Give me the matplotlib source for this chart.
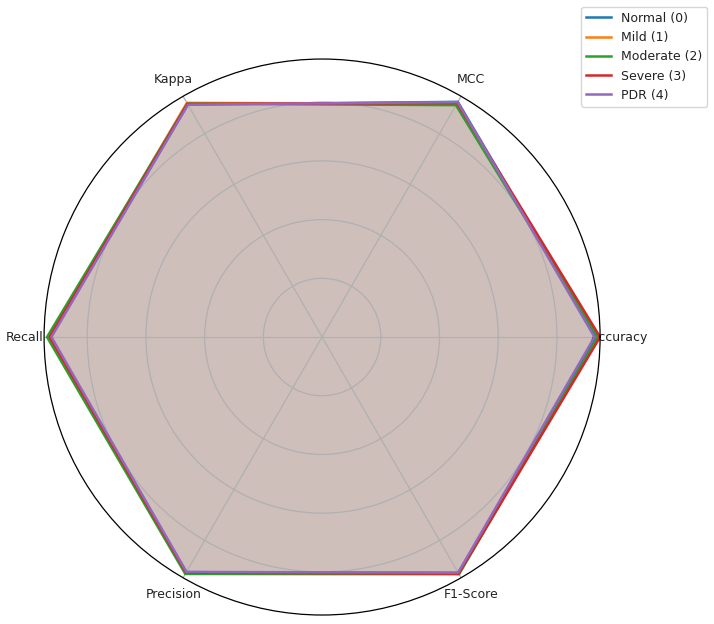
import numpy as np
from matplotlib import pyplot as plt

categories = ['Accuracy', 'MCC', 'Kappa', 'Recall', 'Precision', 'F1-Score']
labels = ['Normal (0)', 'Mild (1)', 'Moderate (2)', 'Severe (3)', 'PDR (4)']

normal = [0.935, 0.925, 0.915, 0.925, 0.925, 0.928]
mild = [0.943, 0.918, 0.921, 0.930, 0.928, 0.930]
moderate = [0.940, 0.912, 0.918, 0.937, 0.932, 0.933]
severe = [0.947, 0.920, 0.917, 0.928, 0.927, 0.931]
pdr = [0.928, 0.924, 0.914, 0.922, 0.924, 0.927]

series = [normal, mild, moderate, severe, pdr]

angles = np.linspace(0, 2 * np.pi, len(categories), endpoint=False).tolist()
angles += angles[:1]

fig = plt.figure(figsize=(7.14, 6.24), dpi=100)
ax = fig.add_axes([0.0616, 0.0144, 0.779, 0.891], polar=True)

for vals, lab in zip(series, labels):
    v = vals + vals[:1]
    ax.plot(angles, v, linewidth=1.8, label=lab)
    ax.fill(angles, v, alpha=0.1)

ax.set_xticks(angles[:-1])
ax.set_xticklabels(categories, fontsize=9, color='#222222')
ax.set_yticklabels([])
ax.set_ylim(0, max(max(s) for s in series))
ax.grid(color='#b0b0b0', linewidth=0.9)
ax.spines['polar'].set_linewidth(0.9)

fig.legend(loc='upper right', bbox_to_anchor=(0.9995, 0.999), fontsize=9,
           labelcolor='#222222')

plt.savefig('out.png', dpi=100)
